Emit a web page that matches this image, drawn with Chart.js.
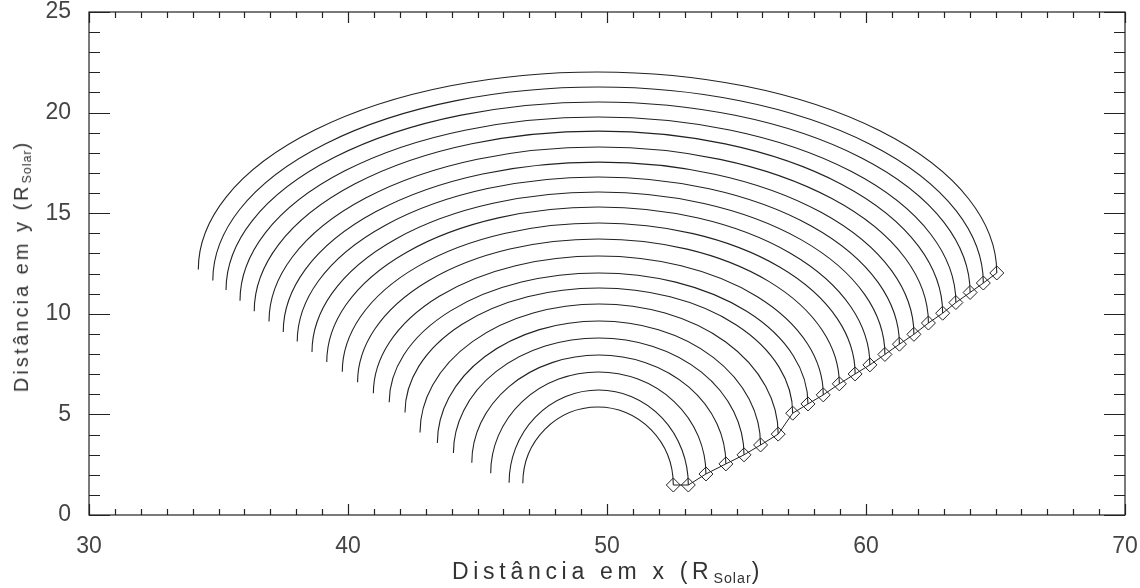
<!DOCTYPE html>
<html>
<head>
<meta charset="utf-8">
<script src="https://cdn.jsdelivr.net/npm/chart.js@4.4.1/dist/chart.umd.min.js"></script>
<style>
  body { margin: 0; background: #fff; }
  #wrap { position: relative; width: 1140px; height: 588px; }
  .axis-title { position: absolute; font-family: "Liberation Sans", sans-serif; color: #333; white-space: nowrap; }
  .axis-title sub { font-size: 0.62em; letter-spacing: 1px; vertical-align: -0.25em; }
  #xTitle { left: 608px; top: 558px; font-size: 23px; letter-spacing: 4.7px; transform: translateX(-50%); }
  #yTitle { left: 22px; top: 266px; font-size: 20px; letter-spacing: 3px; transform: translate(-50%, -50%) rotate(-90deg); }
</style>
</head>
<body>
<div id="wrap">
  <canvas id="chart" width="1140" height="588"></canvas>
  <div id="xTitle" class="axis-title">Distância em x (R<sub>Solar</sub>)</div>
  <div id="yTitle" class="axis-title">Distância em y (R<sub>Solar</sub>)</div>
</div>
<script>
// arcs, from the innermost to the outermost
const arcLeftX = [46.75, 46.22, 45.51, 44.78, 44.07, 43.45, 42.78, 42.20, 41.59, 40.98, 40.37,
                  39.78, 39.18, 38.61, 38.04, 37.50, 36.95, 36.38, 35.83, 35.29, 34.78, 34.22];
const arcLeftY = [1.58, 1.60, 2.08, 2.60, 3.08, 3.58, 4.10, 5.10, 5.60, 6.05, 6.60,
                  7.12, 7.60, 8.10, 8.62, 9.10, 9.62, 10.13, 10.65, 11.18, 11.66, 12.20];
const arcPeakY = [5.37, 6.21, 7.11, 7.95, 8.80, 9.64, 10.49, 11.28, 12.03, 12.87, 13.72,
                  14.51, 15.31, 16.05, 16.80, 17.54, 18.29, 19.08, 19.78, 20.53, 21.27, 22.02];
// diamonds at the right ends of the arcs
const diamondX = [52.56, 53.14, 53.82, 54.59, 55.29, 55.93, 56.61, 57.17, 57.76, 58.35, 58.97,
                  59.58, 60.15, 60.73, 61.29, 61.85, 62.41, 62.96, 63.47, 64.02, 64.53, 65.05];
const diamondY = [1.49, 1.49, 2.04, 2.54, 2.99, 3.48, 4.02, 5.06, 5.52, 5.97, 6.52,
                  7.01, 7.46, 7.98, 8.49, 8.98, 9.54, 10.03, 10.56, 11.06, 11.53, 12.03];

const xTicks = [30, 40, 50, 60, 70];
const yTicks = [0, 5, 10, 15, 20, 25];

const tickFont = { family: 'Liberation Sans', size: 23 };
const inkColor = '#222';

// each arc: left end, top, right end (top sits halfway between the ends)
const arcSets = arcLeftX.map((lx, i) => ({
  type: 'scatter',
  isArc: true,
  data: [
    { x: lx, y: arcLeftY[i] },
    { x: (lx + diamondX[i]) / 2, y: arcPeakY[i] },
    { x: diamondX[i], y: diamondY[i] }
  ],
  showLine: false,
  pointRadius: 0,
  pointHoverRadius: 0
}));

const diamondSet = {
  type: 'line',
  data: diamondX.map((x, i) => ({ x: x, y: diamondY[i] })),
  borderColor: inkColor,
  borderWidth: 1,
  pointStyle: 'rectRot',
  pointRadius: 7,
  pointBorderWidth: 1,
  pointBorderColor: inkColor,
  pointBackgroundColor: 'rgba(0,0,0,0)',
  tension: 0
};

// half ellipses through the three points of every arc dataset
const arcPlugin = {
  id: 'arcs',
  afterDatasetsDraw(chart) {
    const ctx = chart.ctx;
    ctx.save();
    ctx.strokeStyle = inkColor;
    ctx.lineWidth = 1.1;
    chart.data.datasets.forEach((ds, i) => {
      if (!ds.isArc) return;
      const pts = chart.getDatasetMeta(i).data;
      const l = pts[0], t = pts[1], r = pts[2];
      ctx.beginPath();
      ctx.ellipse(t.x, l.y, t.x - l.x, l.y - t.y, 0, Math.PI, 1.5 * Math.PI);
      ctx.ellipse(t.x, r.y, r.x - t.x, r.y - t.y, 0, 1.5 * Math.PI, 2 * Math.PI);
      ctx.stroke();
    });
    ctx.restore();
  }
};

// box around the plot with inward ticks on all four sides
const framePlugin = {
  id: 'frame',
  afterDraw(chart) {
    const ctx = chart.ctx;
    const a = chart.chartArea;
    const xs = chart.scales.x, ys = chart.scales.y;
    ctx.save();
    ctx.strokeStyle = inkColor;
    ctx.lineWidth = 1.2;
    ctx.strokeRect(a.left, a.top, a.right - a.left, a.bottom - a.top);
    ctx.beginPath();
    for (let v = xs.min; v <= xs.max; v++) {
      const px = Math.round(xs.getPixelForValue(v)) + 0.5;
      const len = v % 10 === 0 ? 11 : 6;
      ctx.moveTo(px, a.bottom); ctx.lineTo(px, a.bottom - len);
      ctx.moveTo(px, a.top); ctx.lineTo(px, a.top + len);
    }
    for (let v = ys.min; v <= ys.max; v++) {
      const py = Math.round(ys.getPixelForValue(v)) + 0.5;
      const len = v % 5 === 0 ? 21 : 11;
      ctx.moveTo(a.left, py); ctx.lineTo(a.left + len, py);
      ctx.moveTo(a.right, py); ctx.lineTo(a.right - len, py);
    }
    ctx.stroke();
    ctx.restore();
  }
};

new Chart(document.getElementById('chart'), {
  type: 'scatter',
  data: { datasets: arcSets.concat([diamondSet]) },
  options: {
    responsive: false,
    animation: false,
    layout: { padding: { top: 12, right: 15, left: 0, bottom: 0 } },
    plugins: { legend: { display: false }, tooltip: { enabled: false } },
    scales: {
      x: {
        type: 'linear', min: 30, max: 70,
        afterBuildTicks: s => { s.ticks = xTicks.map(v => ({ value: v })); },
        ticks: { font: tickFont, color: '#444', padding: 10, maxRotation: 0 },
        grid: { display: false },
        border: { display: false },
        afterFit: s => { s.height = 73; s.paddingLeft = 0; s.paddingRight = 0; }
      },
      y: {
        type: 'linear', min: 0, max: 25,
        afterBuildTicks: s => { s.ticks = yTicks.map(v => ({ value: v })); },
        ticks: { font: tickFont, color: '#444', padding: 10 },
        grid: { display: false },
        border: { display: false },
        afterFit: s => { s.width = 89; s.paddingTop = 0; s.paddingBottom = 0; }
      }
    }
  },
  plugins: [arcPlugin, framePlugin]
});
</script>
</body>
</html>
